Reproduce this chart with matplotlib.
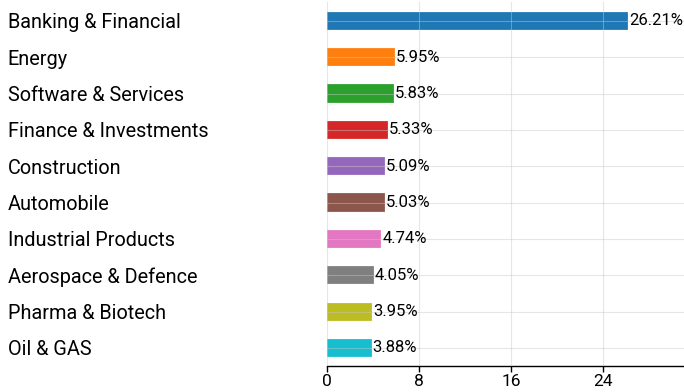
import matplotlib
matplotlib.use("Agg")
import matplotlib.pyplot as plt

sectors = ['Banking & Financial', 'Energy', 'Software & Services',
           'Finance & Investments', 'Construction', 'Automobile',
           'Industrial Products', 'Aerospace & Defence', 'Pharma & Biotech',
           'Oil & GAS']
weights = [26.21, 5.95, 5.83, 5.33, 5.09, 5.03, 4.74, 4.05, 3.95, 3.88]
colors = ['#1f77b4', '#ff7f0e', '#2ca02c', '#d62728', '#9467bd',
          '#8c564b', '#e377c2', '#7f7f7f', '#bcbd22', '#17becf']

plt.rcParams['font.family'] = ['Roboto', 'DejaVu Sans']

fig = plt.figure(figsize=(6.84, 3.92), dpi=100)
ax = fig.add_axes([0.478, 0.066, 0.522, 0.929])

pos = list(range(len(sectors)))
bars = ax.barh(pos, weights, height=0.5, color=colors,
               edgecolor='#ffffff80', linewidth=0.3)
ax.bar_label(bars, labels=['%.2f%%' % w for w in weights],
             padding=0.5, fontsize=12)

ax.set_ylim(9.5, -0.52)
ax.set_xlim(0, 31.05)
ax.set_xticks([0, 8, 16, 24])
ax.set_yticks(pos)
ax.set_yticklabels(sectors, fontsize=14.3)
for lbl in ax.get_yticklabels():
    lbl.set_ha('left')
ax.tick_params(axis='y', length=0, pad=230)
ax.tick_params(axis='x', labelsize=12.5, length=4, width=1, pad=2)

for s in ['top', 'right', 'left']:
    ax.spines[s].set_visible(False)
ax.spines['bottom'].set_linewidth(1)

ax.grid(True, color='#c8c8c8', alpha=0.45, linewidth=0.8)
ax.set_axisbelow(False)

fig.savefig('out.png', dpi=100)
